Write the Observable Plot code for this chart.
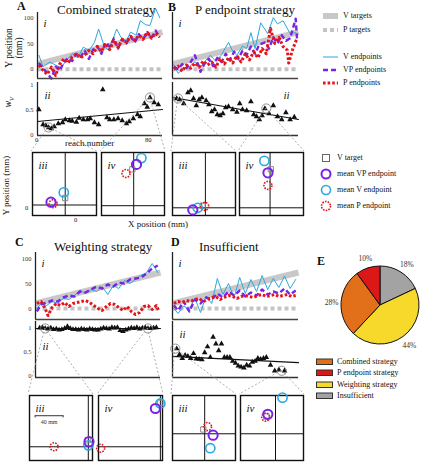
<!DOCTYPE html>
<html><head><meta charset="utf-8">
<script src="https://cdn.jsdelivr.net/npm/d3@7"></script>
<script src="https://cdn.jsdelivr.net/npm/@observablehq/plot@0.6"></script>
<style>
body{margin:0;background:#fff;}
#fig{position:relative;width:421px;height:462px;font-family:"Liberation Serif","Tinos","Times New Roman","DejaVu Serif",serif;overflow:hidden;background:#fff;color:#111}
.t{position:absolute;white-space:nowrap;line-height:1}
</style></head><body><div id="fig"></div>
<script>
// ---------- data ----------
const reachDomain = [0, 90];
const vTarget = [[0, 10], [90, 72]];
const pTarget = [[0, 0], [90, 0]];

const A_V  = [[1,27],[4,5],[9,14],[13,8],[17,3],[21,18],[25,30],[29,22],[33,43],[37,36],[41,52],[44,78],[48,45],[51,37],[54,56],[57,78],[60,62],[64,55],[67,72],[71,66],[74,94],[78,86],[81,85],[85,118],[88,100]];
const A_VP = [[1,12],[4,2],[7,-8],[10,-18],[13,5],[16,-3],[19,14],[22,22],[25,16],[28,30],[31,24],[34,36],[37,20],[40,38],[43,45],[46,30],[49,52],[52,44],[55,60],[58,40],[61,58],[64,50],[67,64],[70,52],[73,68],[76,58],[79,72],[82,60],[85,75],[88,62]];
const A_P  = [[1,8],[4,-2],[7,-10],[10,4],[13,-12],[16,10],[19,20],[22,12],[25,24],[28,30],[31,22],[34,28],[37,36],[40,30],[43,44],[46,34],[49,50],[52,38],[55,56],[58,42],[61,58],[64,52],[67,64],[70,56],[73,66],[76,58],[79,72],[82,60],[85,70],[88,62]];
const A_w  = [[1,0.5],[4,0.2],[6,0.18],[8,0.14],[10,0.12],[12,0.16],[15,0.22],[18,0.24],[20,0.3],[23,0.28],[25,0.27],[28,0.25],[30,0.33],[33,0.3],[36,0.3],[38,0.32],[41,0.24],[44,0.2],[47,0.9],[50,0.34],[52,0.3],[55,0.3],[58,0.32],[61,0.28],[64,0.22],[66,0.26],[69,0.32],[72,0.4],[74,0.36],[77,0.62],[79,0.55],[81,0.74],[84,0.64],[87,0.6]];
const A_fit = [[0,0.26],[90,0.5]];
const A_circ = [[8,0.14],[81,0.74]];

const B_V  = [[1,8],[4,-8],[8,2],[12,5],[16,14],[20,4],[24,18],[27,27],[31,15],[35,28],[40,52],[43,35],[46,27],[50,45],[53,40],[56,71],[59,40],[63,90],[68,69],[72,100],[75,88],[79,94],[84,69],[88,71]];
const B_VP = [[1,5],[4,0],[7,10],[10,2],[13,14],[16,27],[20,-5],[23,12],[26,20],[29,6],[32,22],[35,14],[38,30],[41,18],[44,34],[47,20],[50,36],[53,28],[56,44],[59,30],[62,48],[66,52],[69,40],[72,62],[75,50],[78,66],[81,55],[84,60],[88,98],[89,56]];
const B_P  = [[1,0],[4,6],[7,-4],[10,8],[13,2],[16,12],[19,4],[22,16],[25,8],[28,14],[31,4],[34,20],[37,10],[40,22],[43,12],[46,26],[49,14],[52,30],[55,18],[58,34],[61,22],[64,40],[67,30],[70,79],[73,50],[76,62],[79,44],[82,37],[83,12],[86,40],[89,60]];
const B_w  = [[3,0.72],[5,0.7],[8,0.62],[11,0.84],[13,0.88],[15,0.72],[17,0.58],[19,0.7],[21,0.74],[24,0.68],[26,0.6],[28,0.46],[30,0.5],[32,0.4],[34,0.38],[36,0.42],[38,0.54],[40,0.56],[43,0.5],[46,0.45],[48,0.62],[50,0.5],[53,0.48],[56,0.66],[58,0.4],[60,0.36],[62,0.3],[64,0.38],[66,0.52],[69,0.42],[72,0.58],[75,0.36],[78,0.3],[81,0.44],[84,0.3],[87,0.35]];
const B_fit = [[0,0.74],[90,0.3]];
const B_circ = [[4,0.72],[67,0.52]];

const C_V  = [[1,0],[4,10],[8,6],[12,14],[16,10],[20,20],[24,18],[28,26],[32,36],[36,30],[40,38],[44,34],[48,44],[52,28],[56,46],[60,40],[64,56],[68,50],[72,58],[76,66],[80,72],[84,90],[88,72]];
const C_VP = [[1,-6],[4,8],[8,12],[12,16],[16,14],[20,22],[24,26],[28,24],[32,34],[36,32],[40,38],[44,44],[48,40],[52,48],[56,44],[60,52],[64,50],[68,58],[72,60],[76,62],[80,70],[84,80],[88,86]];
const C_P  = [[1,10],[4,14],[7,0],[9,-14],[12,2],[15,10],[18,6],[21,12],[24,4],[27,10],[30,12],[33,14],[36,16],[39,12],[42,6],[45,0],[48,-4],[51,4],[54,10],[57,8],[60,2],[63,-4],[66,4],[69,-6],[72,-12],[75,-8],[78,4],[81,6],[84,-2],[87,6],[89,-6]];
const C_w  = [[3,0.99],[5,1.0],[7,0.98],[9,0.97],[11,0.99],[13,0.96],[15,0.97],[17,0.95],[19,0.96],[21,0.98],[23,1.02],[25,0.98],[27,0.96],[29,0.96],[31,0.95],[33,0.97],[35,0.96],[37,0.95],[39,0.97],[41,0.96],[43,0.95],[45,0.95],[47,0.97],[49,0.99],[51,0.98],[53,0.97],[55,1.0],[57,0.99],[59,1.0],[61,0.94],[63,0.92],[65,0.95],[67,0.97],[69,0.99],[71,0.98],[73,1.0],[75,0.97],[77,0.99],[79,1.0],[81,0.98],[83,0.98],[85,0.99],[87,1.0]];
const C_fit = [[0,0.98],[90,0.98]];
const C_circ = [[7,0.98],[81,0.98]];

const D_V  = [[1,0],[4,-10],[8,5],[12,-2],[16,20],[20,-8],[24,25],[28,10],[32,60],[36,28],[40,50],[44,22],[48,62],[52,30],[56,58],[60,34],[64,66],[68,38],[72,60],[76,42],[80,65],[84,40],[88,58]];
const D_VP = [[1,6],[4,-4],[8,14],[12,-6],[16,18],[20,10],[24,22],[28,18],[32,30],[36,22],[40,34],[44,26],[48,36],[52,24],[56,32],[60,26],[64,38],[68,28],[72,34],[76,30],[80,40],[84,28],[88,36]];
const D_P  = [[1,10],[4,14],[7,12],[10,16],[13,14],[16,18],[19,20],[22,14],[25,18],[28,22],[31,24],[34,18],[37,22],[40,26],[43,24],[46,20],[49,24],[52,26],[55,24],[58,22],[61,26],[64,28],[67,24],[70,26],[73,28],[76,24],[79,26],[82,28],[85,24],[88,26]];
const D_w  = [[3,0.56],[5,0.44],[7,0.36],[9,0.42],[11,0.4],[13,0.36],[15,0.46],[17,0.35],[19,0.34],[21,0.33],[23,0.48],[25,0.6],[27,0.38],[29,0.8],[31,0.66],[33,0.52],[35,0.66],[37,0.38],[39,0.38],[41,0.38],[43,0.3],[45,0.26],[47,0.2],[49,0.18],[51,0.16],[53,0.22],[55,0.2],[57,0.28],[59,0.3],[61,0.36],[63,0.34],[65,0.36],[67,0.38],[70,0.22],[73,0.1],[76,0.12],[80,0.1]];
const D_fit = [[0,0.4],[90,0.27]];
const D_circ = [[2,0.56],[78,0.1]];

// endpoint summaries in iii / iv boxes (mm, box domain 0..90)
const boxDomain = [0, 90];
const A3 = {cross:[46,15], target:[46,25], v:[44,33], vp:[26,19], p:[29,17]};
const A4 = {cross:[46,14], target:[44,66], v:[57,82], vp:[50,73], p:[35,60]};
const B3 = {cross:[47,11], target:[43,14], v:[36,11], vp:[29,8], p:[46,13]};
const B4 = {cross:[43,11], target:[44,66], v:[35,78], vp:[40,61], p:[40,43]};
const C3 = {cross:[84,19], target:[83,28], v:[84,21], vp:[85,26], p:[35,19], bar:[[8,62],[48,62]]};
const C4 = {cross:[87,19], target:[87,80], v:[87,79], vp:[80,72], p:[3,17]};
const D3 = {cross:[46,37], target:[44,43], v:[54,17], vp:[58,35], p:[50,47]};
const D4 = {cross:[50,37], target:[37,61], v:[60,87], vp:[39,64], p:[36,60]};
const scaleBarLabel = "40 mm";

const pieNames  = ["Insufficient", "Weighting strategy", "Combined strategy", "P endpoint strategy"];
const pieShares = [18, 44, 28, 10];
const pieColors = ["#a3a3a3", "#f6d92a", "#e2701a", "#dc1717"];
const legendOrder = ["Combined strategy", "P endpoint strategy", "Weighting strategy", "Insufficient"];

// ---------- style ----------
const SERIF = "'Liberation Serif','Tinos','Times New Roman','DejaVu Serif',serif";
const CYAN = "#2aa8df", PURPLE = "#7a22e6", RED = "#e5141b", GRAY = "#c8c8c8";
const fig = document.getElementById("fig");

function put(node, left, top) {
  node.style.position = "absolute"; node.style.left = left + "px"; node.style.top = top + "px";
  fig.appendChild(node); return node;
}
function text(str, left, top, css = "") {
  const d = document.createElement("div"); d.className = "t"; d.innerHTML = str;
  d.style.cssText += `left:${left}px;top:${top}px;${css}`; fig.appendChild(d); return d;
}
const X = d => d[0], Y = d => d[1];

function seriesPlot(fr, yDomain, V, VP, P, yTicks) {
  const [x0, y0, x1, y1] = fr, ml = 24, mr = 3, mt = 3, mb = 2;
  const p = Plot.plot({
    width: x1 - x0 + ml + mr, height: y1 - y0 + mt + mb,
    marginLeft: ml, marginRight: mr, marginTop: mt, marginBottom: mb,
    x: {domain: reachDomain, axis: null}, y: {domain: yDomain, axis: null},
    style: {fontFamily: SERIF, background: "transparent", overflow: "visible"},
    marks: [
      Plot.line(vTarget, {x: X, y: Y, stroke: GRAY, strokeWidth: 6, strokeLinecap: "butt"}),
      Plot.line(pTarget, {x: X, y: Y, stroke: "#c4c4c4", strokeWidth: 4, strokeDasharray: "4,3", strokeLinecap: "butt"}),
      Plot.line(V, {x: X, y: Y, stroke: CYAN, strokeWidth: 1}),
      Plot.line(VP, {x: X, y: Y, stroke: PURPLE, strokeWidth: 2.4, strokeDasharray: "5,3", strokeLinecap: "butt"}),
      Plot.line(P, {x: X, y: Y, stroke: RED, strokeWidth: 3, strokeDasharray: "2.6,2", strokeLinecap: "butt"}),
      Plot.ruleX([reachDomain[0]], {stroke: "#222", strokeWidth: 1.3}),
      Plot.ruleY([yDomain[0]], {stroke: "#444", strokeWidth: 1.6}),
      Plot.text(yTicks, {y: d => d, frameAnchor: "left", dx: -4, textAnchor: "end", fontSize: 6.5, fill: "#333"}),
      Plot.text(["i"], {frameAnchor: "top-left", dx: 6, dy: 7, fontStyle: "italic", fontSize: 11})
    ]
  });
  return put(p, x0 - ml, y0 - mt);
}

function wPlot(fr, yDomain, pts, fit, circ, yTicks, iiAnchor, iiDy) {
  const [x0, y0, x1, y1] = fr, ml = 24, mr = 3, mt = 3, mb = 2;
  const p = Plot.plot({
    width: x1 - x0 + ml + mr, height: y1 - y0 + mt + mb,
    marginLeft: ml, marginRight: mr, marginTop: mt, marginBottom: mb,
    x: {domain: reachDomain, axis: null}, y: {domain: yDomain, axis: null},
    style: {fontFamily: SERIF, background: "transparent", overflow: "visible"},
    marks: [
      Plot.ruleX([reachDomain[0]], {stroke: "#222", strokeWidth: 1.3}),
      Plot.ruleY([yDomain[0]], {stroke: "#333", strokeWidth: 1.3}),
      Plot.line(fit, {x: X, y: Y, stroke: "#111", strokeWidth: 1.1}),
      Plot.dot(pts, {x: X, y: Y, symbol: "triangle", fill: "#111", r: 2.1}),
      Plot.dot(circ, {x: X, y: Y, r: 4.6, stroke: "#777", strokeWidth: 0.8, fill: "none"}),
      Plot.text(yTicks, {y: d => d, frameAnchor: "left", dx: -4, textAnchor: "end", fontSize: 6.5, fill: "#333"}),
      Plot.text(["ii"], {frameAnchor: iiAnchor, dx: iiAnchor.endsWith("left") ? 7 : -9, dy: iiDy, fontStyle: "italic", fontSize: 11})
    ]
  });
  put(p, x0 - ml, y0 - mt);
  const sx = p.scale("x"), sy = p.scale("y");
  return circ.map(d => [x0 + sx.apply(d[0]) - ml, y0 + sy.apply(d[1]) - mt]);
}

function boxPlot(fr, b, label) {
  const [x0, y0, x1, y1] = fr;
  const marks = [
    Plot.frame({stroke: "#111", strokeWidth: 1.4}),
    Plot.ruleX([b.cross[0]], {stroke: "#111", strokeWidth: 1}),
    Plot.ruleY([b.cross[1]], {stroke: "#111", strokeWidth: 1})
  ];
  if (b.bar) {
    marks.push(
      Plot.line(b.bar, {x: X, y: Y, stroke: "#333", strokeWidth: 1, strokeLinecap: "butt"}),
      Plot.ruleX(b.bar, {x: X, y1: d => d[1] - 3, y2: Y, stroke: "#333", strokeWidth: 1}),
      Plot.text([b.bar], {x: d => (d[0][0] + d[1][0]) / 2, y: d => d[0][1], text: () => scaleBarLabel, dy: 6, fontSize: 6, fill: "#333"})
    );
  }
  marks.push(
    Plot.dot([b.target], {x: X, y: Y, symbol: "square", r: 3, stroke: "#8a8a8a", strokeWidth: 1, fill: "none"}),
    Plot.dot([b.p], {x: X, y: Y, r: 4, stroke: RED, strokeWidth: 1.6, strokeDasharray: "1.6,1.2", fill: "none"}),
    Plot.dot([b.v], {x: X, y: Y, r: 4.6, stroke: CYAN, strokeWidth: 1.6, fill: "none"}),
    Plot.dot([b.vp], {x: X, y: Y, r: 4.6, stroke: PURPLE, strokeWidth: 2, fill: "none"}),
    Plot.text([label], {frameAnchor: "top-left", dx: 6, dy: 9, fontStyle: "italic", fontSize: 11})
  );
  const p = Plot.plot({
    width: x1 - x0, height: y1 - y0, margin: 1,
    x: {domain: boxDomain, axis: null}, y: {domain: boxDomain, axis: null},
    style: {fontFamily: SERIF, background: "transparent", overflow: "visible"},
    marks
  });
  put(p, x0, y0);
  return [[x0, y0], [x1, y0]];
}

const connectors = [];
function link(from, box) { connectors.push([from, box[0]], [from, box[1]]); }

// ---------- panel A ----------
seriesPlot([37, 12, 162, 78], [-18, 110], A_V, A_VP, A_P, [0, 50, 100]);
let c = wPlot([37, 82, 162, 135], [-0.02, 1.04], A_w, A_fit, A_circ, [0, 0.5, 1], "top-left", 9);
link(c[0], boxPlot([31, 151, 97, 216], A3, "iii"));
link(c[1], boxPlot([100, 151, 165, 216], A4, "iv"));
// ---------- panel B ----------
seriesPlot([172, 12, 298, 78], [-18, 110], B_V, B_VP, B_P, []);
c = wPlot([172, 82, 298, 135], [-0.02, 1.04], B_w, B_fit, B_circ, [], "top-right", 9);
link(c[0], boxPlot([171, 151, 236, 216], B3, "iii"));
link(c[1], boxPlot([238, 151, 304, 216], B4, "iv"));
// ---------- panel C ----------
seriesPlot([35, 252, 160, 319], [-22, 112], C_V, C_VP, C_P, [0, 50, 100]);
c = wPlot([35, 321, 160, 377], [-0.04, 1.125], C_w, C_fit, C_circ, [0, 0.5, 1], "top-left", 21);
link(c[0], boxPlot([28, 394, 93, 461], C3, "iii"));
link(c[1], boxPlot([97, 394, 163, 461], C4, "iv"));
// ---------- panel D ----------
seriesPlot([172, 252, 298, 319], [-22, 112], D_V, D_VP, D_P, []);
c = wPlot([172, 321, 298, 377], [-0.04, 1.125], D_w, D_fit, D_circ, [], "top-left", 9);
link(c[0], boxPlot([171, 394, 236, 461], D3, "iii"));
link(c[1], boxPlot([239, 394, 304, 461], D4, "iv"));

// connectors overlay
const ov = d3.create("svg").attr("width", 421).attr("height", 462).style("position", "absolute").style("left", "0px").style("top", "0px").style("pointer-events", "none");
ov.selectAll("line").data(connectors).join("line")
  .attr("x1", d => d[0][0]).attr("y1", d => d[0][1]).attr("x2", d => d[1][0]).attr("y2", d => d[1][1])
  .attr("stroke", "#9a9a9a").attr("stroke-width", 0.8).attr("stroke-dasharray", "2,2");
fig.appendChild(ov.node());

// ---------- pie E ----------
const pieR = 39, pieW = 110, pieH = 110;
const pieData = d3.pie().sort(null).value(d => d)(pieShares);
const labelArc = d3.arc().innerRadius(49).outerRadius(49);
const pieLabels = pieData.map(a => { const [lx, ly] = labelArc.centroid(a); return {x: lx, y: ly, t: a.data + "%"}; });
const pie = Plot.plot({
  width: pieW, height: pieH, margin: 0,
  x: {domain: [-pieW / 2, pieW / 2], axis: null}, y: {domain: [-pieH / 2, pieH / 2], axis: null, reverse: true},
  style: {fontFamily: SERIF, background: "transparent", overflow: "visible"},
  marks: [
    (index, scales) => {
      const g = d3.create("svg:g").attr("transform", `translate(${scales.x(0)},${scales.y(0)})`);
      const arc = d3.arc().innerRadius(0).outerRadius(pieR);
      g.selectAll("path").data(pieData).join("path").attr("d", arc)
        .attr("fill", (d, i) => pieColors[i]).attr("stroke", "#111").attr("stroke-width", 1);
      return g.node();
    },
    Plot.text(pieLabels, {x: "x", y: "y", text: "t", fontSize: 7.5, fill: "#333"})
  ]
});
put(pie, 380 - pieW / 2, 305 - pieH / 2);

// ---------- texts ----------
const BL = "font-weight:bold;font-size:12px;";
text("A", 17, 0, BL); text("B", 168, 1, BL); text("C", 15, 236, BL); text("D", 171, 236, BL); text("E", 317, 255, BL);
const T = "font-size:13px;";
text("Combined strategy", 57, 3, T); text("P endpoint strategy", 195, 3, T);
text("Weighting strategy", 54, 240, T); text("Insufficient", 199, 240, T);
text("Y position<br>(mm)", -10, 38, "font-size:9.5px;text-align:center;transform:rotate(-90deg);width:50px;line-height:1.05");
text("w<sub style='font-size:6.5px'>V</sub>", 4, 96, "font-size:10px;transform:rotate(-90deg);font-style:italic");
text("Y position (mm)", -29, 181, "font-size:9px;transform:rotate(-90deg);width:70px;text-align:center");
text("X position (mm)", 128, 220, "font-size:9px");
text("0", 35, 137, "font-size:6.5px"); text("80", 145, 137, "font-size:6.5px");
text("reach.number", 65, 139, "font-size:9px");
text("0", 25, 205, "font-size:6.5px"); text("0", 74, 217, "font-size:6.5px");

// legend 1
const L = "font-size:8px;";
const leg1 = [
  ["V targets", GRAY, 6, ""], ["P targets", "#c4c4c4", 4, "4,3"],
  ["V endpoints", CYAN, 1, ""], ["VP endpoints", PURPLE, 2.4, "5,3"], ["P endpoints", RED, 3, "2.6,2"]
];
const leg1Y = [16, 30, 57, 70, 83];
leg1.forEach((d, i) => {
  const s = d3.create("svg").attr("width", 16).attr("height", 8);
  s.append("line").attr("x1", 0).attr("x2", 15).attr("y1", 4).attr("y2", 4).attr("stroke", d[1]).attr("stroke-width", d[2]).attr("stroke-dasharray", d[3] || null);
  put(s.node(), 323, leg1Y[i] - 4);
  text(d[0], 343, leg1Y[i] - 4, L);
});
// legend 2
const leg2 = ["V target", "mean VP endpoint", "mean V endpoint", "mean P endpoint"];
const leg2Y = [158, 174, 190, 206];
leg2.forEach((name, i) => {
  const s = d3.create("svg").attr("width", 12).attr("height", 12);
  if (i === 0) s.append("rect").attr("x", 2.5).attr("y", 2.5).attr("width", 7).attr("height", 7).attr("fill", "none").attr("stroke", "#666");
  else s.append("circle").attr("cx", 6).attr("cy", 6).attr("r", 4.5).attr("fill", "none")
    .attr("stroke", [null, PURPLE, CYAN, RED][i]).attr("stroke-width", i === 1 ? 2 : 1.6).attr("stroke-dasharray", i === 3 ? "1.6,1.2" : null);
  put(s.node(), 320, leg2Y[i] - 6);
  text(name, 337, leg2Y[i] - 4, L);
});
// legend pie
const leg3Y = [362, 373, 385, 396];
legendOrder.forEach((name, i) => {
  const s = d3.create("svg").attr("width", 18).attr("height", 8);
  s.append("rect").attr("x", 0.5).attr("y", 1).attr("width", 16).attr("height", 5.5).attr("fill", pieColors[pieNames.indexOf(name)]).attr("stroke", "#333");
  put(s.node(), 316, leg3Y[i] - 4);
  text(name, 337, leg3Y[i] - 4.5, L);
});
</script></body></html>
